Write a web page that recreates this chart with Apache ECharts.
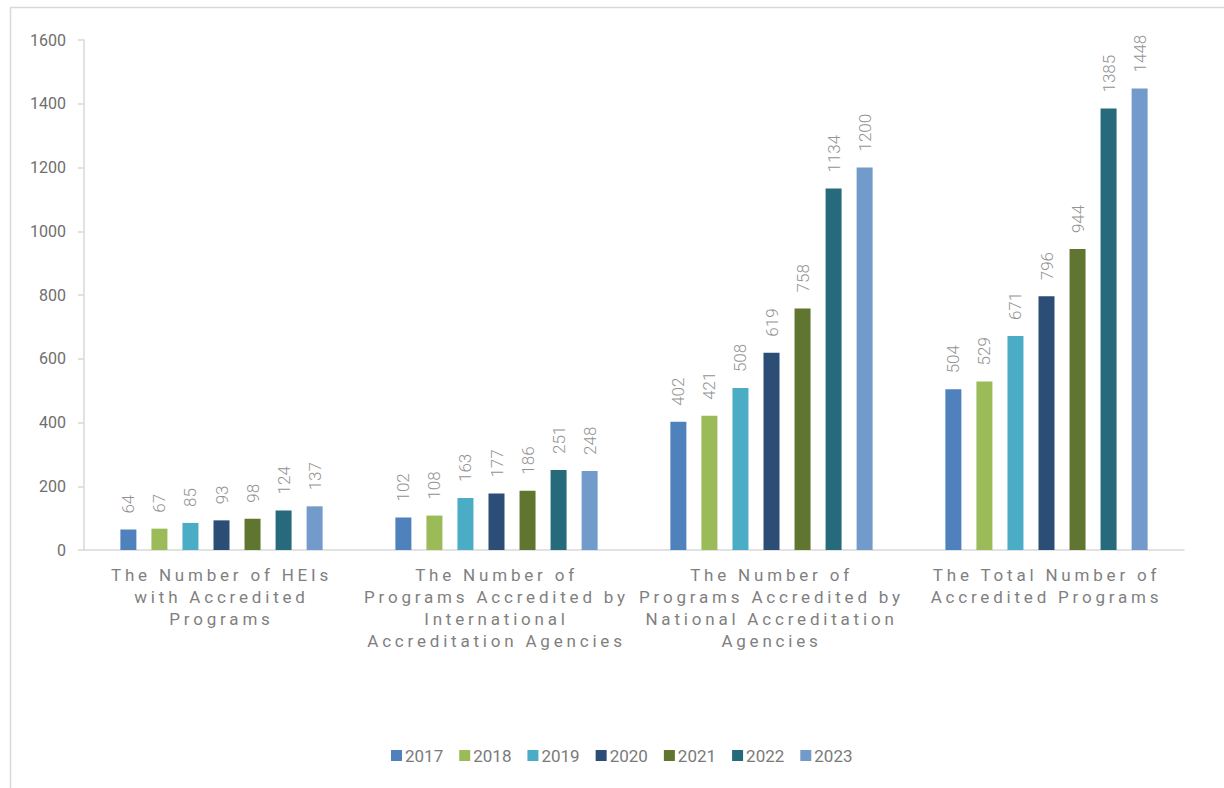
<!DOCTYPE html>
<html>
<head>
<meta charset="utf-8">
<script src="https://cdn.jsdelivr.net/npm/echarts@6/dist/echarts.min.js"></script>
<style>
  html, body { margin: 0; padding: 0; background: #fff; }
  #chart { width: 1224px; height: 788px; }
</style>
</head>
<body>
<div id="chart"></div>
<script>
// Accreditation counts by year, grouped by indicator
const categories = [
  'The Number of HEIs\nwith Accredited\nPrograms',
  'The Number of\nPrograms Accredited by\nInternational\nAccreditation Agencies',
  'The Number of\nPrograms Accredited by\nNational Accreditation\nAgencies',
  'The Total Number of\nAccredited Programs'
];
const years = ['2017', '2018', '2019', '2020', '2021', '2022', '2023'];
const values2017 = [64, 102, 402, 504];
const values2018 = [67, 108, 421, 529];
const values2019 = [85, 163, 508, 671];
const values2020 = [93, 177, 619, 796];
const values2021 = [98, 186, 758, 944];
const values2022 = [124, 251, 1134, 1385];
const values2023 = [137, 248, 1200, 1448];
const yTicks = [0, 200, 400, 600, 800, 1000, 1200, 1400, 1600];

const yearValues = [values2017, values2018, values2019, values2020, values2021, values2022, values2023];
const colors = ['#4f81bd', '#9bbb59', '#4bacc6', '#2c4d75', '#5f7530', '#276a7c', '#729aca'];

const FONT = 'Roboto, "DejaVu Sans", sans-serif';

const series = years.map((y, i) => ({
  name: y,
  type: 'bar',
  data: yearValues[i],
  barWidth: 16,
  barGap: '94%',
  itemStyle: { color: colors[i] },
  label: {
    show: true,
    position: 'top',
    rotate: 90,
    align: 'left',
    verticalAlign: 'middle',
    distance: 16,
    color: '#939393',
    fontFamily: FONT,
    fontWeight: 300,
    fontSize: 17
  }
}));

const chart = echarts.init(document.getElementById('chart'), null, { renderer: 'svg' });
chart.setOption({
  animation: false,
  backgroundColor: '#ffffff',
  color: colors,
  graphic: [{
    type: 'rect',
    left: 8, top: 5,
    shape: { width: 1400, height: 1000 },
    style: { fill: 'none', stroke: '#d9d9d9', lineWidth: 1.5 },
    silent: true,
    z: -10
  }],
  grid: { left: 84, right: 40, top: 40, bottom: 238, containLabel: false },
  legend: {
    data: years,
    left: 386,
    top: 742,
    itemWidth: 11,
    itemHeight: 11,
    itemGap: 16,
    icon: 'rect',
    textStyle: { color: '#7a7a7a', fontFamily: FONT, fontSize: 17, padding: [0, 0, 0, -2] }
  },
  xAxis: {
    type: 'category',
    data: categories,
    axisLine: { show: true, lineStyle: { color: '#d9d9d9', width: 1.5 } },
    axisTick: { show: false },
    axisLabel: {
      interval: 0,
      margin: 14,
      color: '#7f7f7f',
      fontFamily: FONT,
      fontSize: 17,
      lineHeight: 22
    }
  },
  yAxis: {
    type: 'value',
    min: yTicks[0],
    max: yTicks[yTicks.length - 1],
    interval: yTicks[1] - yTicks[0],
    splitLine: { show: false },
    axisLine: { show: true, lineStyle: { color: '#d9d9d9', width: 1.5 } },
    axisTick: { show: true, length: 6, lineStyle: { color: '#d9d9d9', width: 1.5 } },
    axisLabel: {
      margin: 18,
      color: '#6e6e6e',
      fontFamily: FONT,
      fontSize: 16,
      formatter: v => String(v)
    }
  },
  series: series
});

// Spread out the letters of the category labels
const catLines = new Set(categories.flatMap(c => c.split('\n')));
function spaceCategoryText() {
  document.querySelectorAll('#chart svg text').forEach(t => {
    if (catLines.has(t.textContent)) {
      t.style.letterSpacing = '3.8px';
    }
  });
}
chart.on('finished', spaceCategoryText);
spaceCategoryText();
</script>
</body>
</html>
